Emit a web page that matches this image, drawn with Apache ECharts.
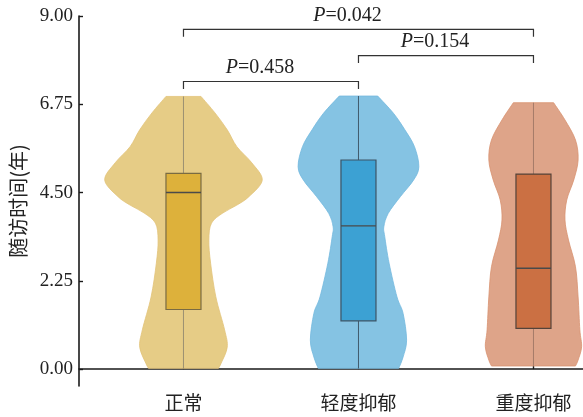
<!DOCTYPE html>
<html>
<head>
<meta charset="utf-8">
<script src="https://cdn.jsdelivr.net/npm/echarts@6/dist/echarts.min.js"></script>
<style>
  html, body { margin: 0; padding: 0; background: #fff; }
  #chart { width: 583px; height: 417px; }
</style>
</head>
<body>
<div id="chart"></div>
<script>
// Groups on the x axis
const groups = ['正常', '轻度抑郁', '重度抑郁'];
const yTicks = [0, 2.25, 4.5, 6.75, 9];

// Kernel density profile per group: [follow-up years, density]
const densityNormal = [
  [6.95, 0.20], [6.53, 0.36], [6.10, 0.50], [5.67, 0.61], [5.26, 0.78],
  [4.82, 0.90], [4.40, 0.75], [4.18, 0.61], [3.98, 0.45], [3.72, 0.32],
  [3.29, 0.29], [2.70, 0.31], [1.84, 0.37], [1.00, 0.47], [0.56, 0.50],
  [0.15, 0.43], [0.02, 0.40]
];
const densityMild = [
  [6.96, 0.22], [6.52, 0.40], [6.10, 0.53], [5.67, 0.64], [5.16, 0.69],
  [4.82, 0.63], [4.40, 0.48], [3.97, 0.34], [3.63, 0.29], [3.38, 0.30],
  [2.70, 0.35], [1.84, 0.44], [1.42, 0.51], [0.74, 0.55], [0.31, 0.51],
  [0.02, 0.46]
];
const densitySevere = [
  [6.79, 0.23], [6.35, 0.36], [5.84, 0.48], [5.33, 0.51], [4.82, 0.46],
  [4.31, 0.38], [3.80, 0.36], [3.29, 0.40], [2.61, 0.48], [1.84, 0.51],
  [1.00, 0.53], [0.57, 0.55], [0.23, 0.51], [0.08, 0.48]
];

// Box summaries: [min, Q1, median, Q3, max]
const boxNormal = [0.02, 1.52, 4.50, 4.99, 6.95];
const boxMild = [0.02, 1.23, 3.65, 5.33, 6.96];
const boxSevere = [0.08, 1.04, 2.57, 4.97, 6.79];

// Pairwise comparisons: [group a, group b, P value]
const comparisons = [
  [0, 2, '0.042'],
  [1, 2, '0.154'],
  [0, 1, '0.458']
];

const densities = [densityNormal, densityMild, densitySevere];
const boxes = [boxNormal, boxMild, boxSevere];

// Styling
const palette = [
  { violin: '#E6CC86', edge: '#E2C378', box: '#DDB13B', boxLine: '#7A6B42', whisker: '#9C9072' },
  { violin: '#85C3E3', edge: '#74B9DE', box: '#3CA1D3', boxLine: '#3C5466', whisker: '#405A6B' },
  { violin: '#DEA489', edge: '#D89270', box: '#CB7043', boxLine: '#54433A', whisker: '#A67B68' }
];
const HALF = 0.5;      // half-width (x units) for density 1
const BOX_HALF = 0.1;  // half-width of the box
const bracketY = [8.66, 7.99, 7.33];
const bracketDrop = 0.19;
const SERIF = "'Liberation Serif', 'DejaVu Serif', serif";
const CJK = "'Noto Sans CJK SC', sans-serif";

function fmt(p) { return p[0].toFixed(2) + ' ' + p[1].toFixed(2); }

// Catmull-Rom through points, emitted as cubic Bezier segments
function curve(pts) {
  let d = '';
  for (let i = 0; i < pts.length - 1; i++) {
    const p0 = pts[Math.max(i - 1, 0)];
    const p1 = pts[i];
    const p2 = pts[i + 1];
    const p3 = pts[Math.min(i + 2, pts.length - 1)];
    const c1 = [p1[0] + (p2[0] - p0[0]) / 6, p1[1] + (p2[1] - p0[1]) / 6];
    const c2 = [p2[0] - (p3[0] - p1[0]) / 6, p2[1] - (p3[1] - p1[1]) / 6];
    d += ' C' + fmt(c1) + ' ' + fmt(c2) + ' ' + fmt(p2);
  }
  return d;
}

function renderViolin(params, api) {
  const i = params.dataIndex;
  const cx = i + 1;
  const dens = densities[i];
  const b = boxes[i];
  const col = palette[i];

  const right = dens.map(([v, d]) => api.coord([cx + d * HALF, v]));
  const left = dens.map(([v, d]) => api.coord([cx - d * HALF, v])).reverse();
  const pathData = 'M' + fmt(right[0]) + curve(right) + ' L' + fmt(left[0]) + curve(left) + ' Z';

  const pMin = api.coord([cx, b[0]]);
  const pQ1 = api.coord([cx, b[1]]);
  const pQ3 = api.coord([cx, b[3]]);
  const pMax = api.coord([cx, b[4]]);
  const tl = api.coord([cx - BOX_HALF, b[3]]);
  const br = api.coord([cx + BOX_HALF, b[1]]);
  const ml = api.coord([cx - BOX_HALF, b[2]]);
  const mr = api.coord([cx + BOX_HALF, b[2]]);

  return {
    type: 'group',
    children: [
      { type: 'path', shape: { pathData: pathData },
        style: { fill: col.violin, stroke: col.edge, lineWidth: 0.8 } },
      { type: 'line', shape: { x1: pMax[0], y1: pMax[1], x2: pQ3[0], y2: pQ3[1] },
        style: { stroke: col.whisker, lineWidth: 1 } },
      { type: 'line', shape: { x1: pQ1[0], y1: pQ1[1], x2: pMin[0], y2: pMin[1] },
        style: { stroke: col.whisker, lineWidth: 1 } },
      { type: 'rect', shape: { x: tl[0], y: tl[1], width: br[0] - tl[0], height: br[1] - tl[1] },
        style: { fill: col.box, stroke: col.boxLine, lineWidth: 1.2 } },
      { type: 'line', shape: { x1: ml[0], y1: ml[1], x2: mr[0], y2: mr[1] },
        style: { stroke: '#4a4a4a', lineWidth: 1.4 } }
    ]
  };
}

function renderBracket(params, api) {
  const k = params.dataIndex;
  const [a, b, p] = comparisons[k];
  const y = bracketY[k];
  const p1 = api.coord([a + 1, y - bracketDrop]);
  const p2 = api.coord([a + 1, y]);
  const p3 = api.coord([b + 1, y]);
  const p4 = api.coord([b + 1, y - bracketDrop]);
  return {
    type: 'group',
    children: [
      { type: 'polyline', shape: { points: [p1, p2, p3, p4] },
        style: { stroke: '#333', lineWidth: 1.2, fill: null } },
      { type: 'text',
        style: {
          x: (p2[0] + p3[0]) / 2 - 11,
          y: p2[1] - 4,
          text: '{i|P}{n|=' + p + '}',
          align: 'center',
          verticalAlign: 'bottom',
          rich: {
            i: { fontFamily: SERIF, fontSize: 20, fontStyle: 'italic', fill: '#222' },
            n: { fontFamily: SERIF, fontSize: 20, fill: '#222' }
          }
        } }
    ]
  };
}

const chart = echarts.init(document.getElementById('chart'), null, { renderer: 'canvas' });
chart.setOption({
  animation: false,
  backgroundColor: '#fff',
  grid: { left: 79, right: 0, top: 16, bottom: 31, containLabel: false },
  xAxis: {
    type: 'value',
    min: 0.403,
    max: 3.283,
    splitLine: { show: false },
    axisLine: { show: true, lineStyle: { color: '#1a1a1a', width: 1.6 } },
    axisTick: { show: true, inside: true, length: 4, customValues: [1, 2, 3],
      lineStyle: { color: '#1a1a1a', width: 1.4 } },
    axisLabel: {
      customValues: [1, 2, 3],
      formatter: v => groups[Math.round(v) - 1],
      fontFamily: CJK, fontSize: 19, color: '#222', margin: 7
    }
  },
  yAxis: {
    type: 'value',
    min: -0.43,
    max: 9,
    splitLine: { show: false },
    axisLine: { show: true, lineStyle: { color: '#1a1a1a', width: 1.6 } },
    axisTick: { show: true, inside: true, length: 4, customValues: yTicks,
      lineStyle: { color: '#1a1a1a', width: 1.4 } },
    axisLabel: {
      customValues: yTicks,
      formatter: v => v.toFixed(2),
      fontFamily: SERIF, fontSize: 19, color: '#222', margin: 6
    },
    name: '随访时间(年)',
    nameLocation: 'middle',
    nameGap: 46,
    nameTextStyle: { fontFamily: CJK, fontSize: 20, color: '#222' }
  },
  series: [
    {
      type: 'custom',
      renderItem: renderViolin,
      data: groups.map((g, i) => [i + 1, boxes[i][2]]),
      clip: false,
      silent: true
    },
    {
      type: 'custom',
      renderItem: renderBracket,
      data: comparisons.map((c, k) => [c[0] + 1, bracketY[k]]),
      clip: false,
      silent: true
    }
  ]
});
</script>
</body>
</html>
